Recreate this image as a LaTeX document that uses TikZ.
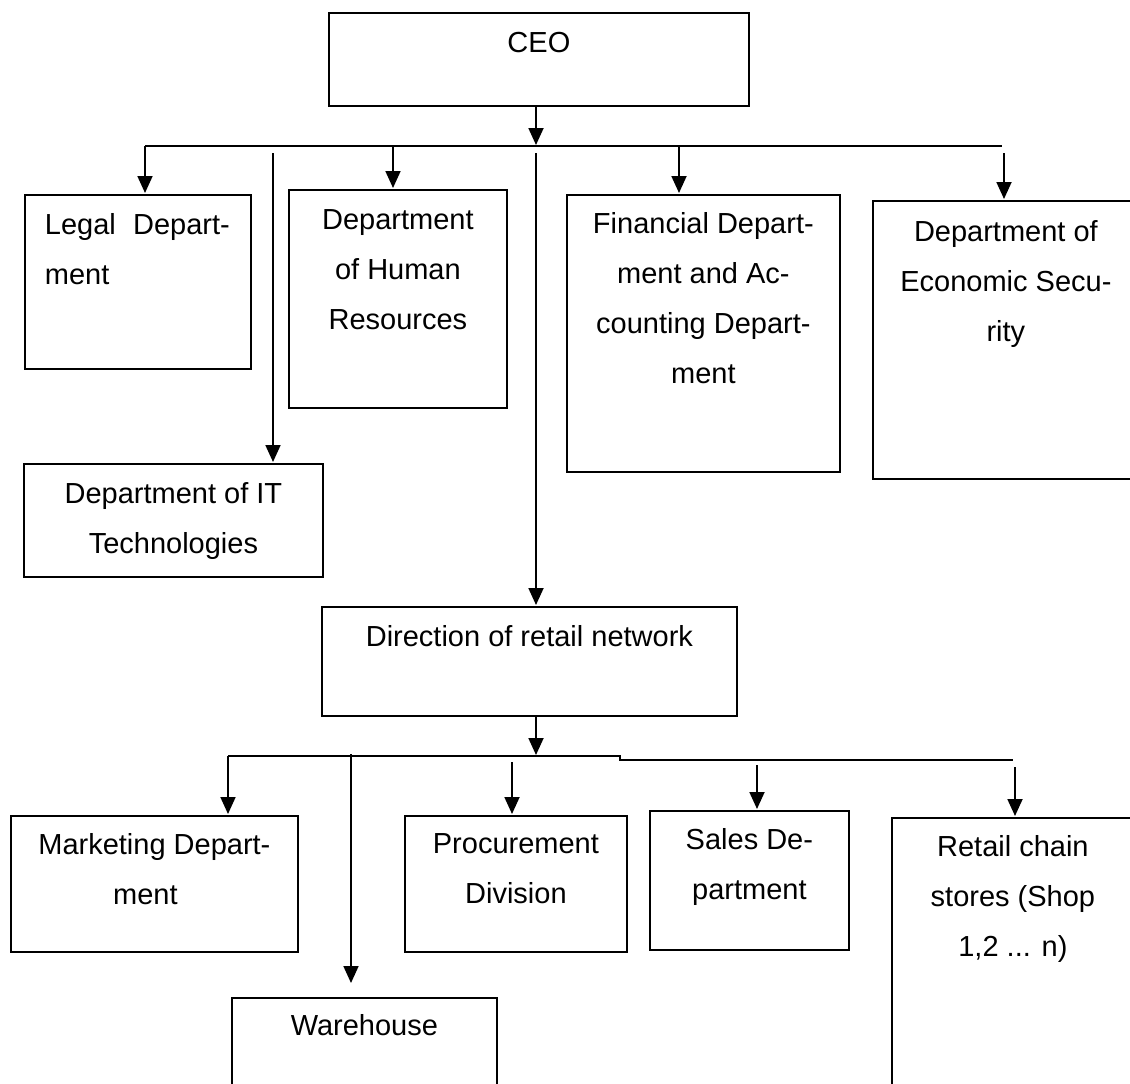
\documentclass[tikz,border=0pt]{standalone}
\usepackage{fontspec}
\setmainfont{Liberation Sans}
\usetikzlibrary{arrows.meta}

% text of a box: width, height, top gap, lines
\newcommand{\deptext}[4]{\parbox[t][#2pt][t]{#1pt}{\vspace*{#3pt}\centering #4}}

\begin{document}
\begin{tikzpicture}[x=1pt,y=-1pt,>={Triangle[width=15pt,length=17pt]},shorten >=1pt,
  box/.style={draw,line width=1.8pt,anchor=north west,inner sep=0pt,font=\fontsize{29}{50}\selectfont},
  wire/.style={line width=1.8pt}]

\useasboundingbox (0,0) rectangle (1130,1084);

\node[box] (ceo)    at (328,12)  {\deptext{420}{93}{19}{CEO}};

\node[box] (legal)  at (24,194)  {\deptext{226}{174}{19}{\raggedright\hspace*{20pt}\makebox[185pt][s]{Legal Depart-}\\\hspace*{20pt}ment}};
\node[box] (hr)     at (288,189) {\deptext{218}{218}{20}{Department\\of Human\\Resources}};
\node[box] (it)     at (23,463)  {\deptext{299}{113}{19}{Department of IT\\Technologies}};
\node[box] (fin)    at (566,194) {\deptext{273}{277}{18}{Financial Depart-\\ment and Ac-\\counting Depart-\\ment}};
\node[box] (eco)    at (872,200) {\deptext{266}{278}{20}{Department of\\Economic Secu-\\rity}};

\node[box] (dir)    at (321,606) {\deptext{415}{109}{19}{Direction of retail network}};

\node[box] (mkt)    at (10,815)  {\deptext{287}{136}{18}{Marketing Depart-\hspace*{18pt}\\ment\hspace*{18pt}}};
\node[box] (wh)     at (231,997) {\deptext{265}{120}{17}{Warehouse}};
\node[box] (proc)   at (404,815) {\deptext{222}{136}{18}{Procurement\\Division}};
\node[box] (sales)  at (649,810) {\deptext{199}{139}{18}{Sales De-\\partment}};
\node[box] (retail) at (891,817) {\deptext{242}{300}{18}{Retail chain\\stores (Shop\\1,2 ... n)}};

% upper bus
\coordinate (tb)   at (536,146);
\coordinate (tbl)  at (145,146);
\coordinate (tbr)  at (1003,146);
\coordinate (itx)  at (273,153);
\coordinate (hrx)  at (393,146);
\coordinate (dirx) at (536,153);
\coordinate (finx) at (679,146);
\coordinate (ecox) at (1004,153);

\draw[wire] (tbl) -- (tbr);
\path[wire,->] (ceo.south -| tb) edge (tb)
  (tbl)  edge (tbl |- legal.north)
  (itx)  edge (itx |- it.north)
  (hrx)  edge (hrx |- hr.north)
  (dirx) edge (dirx |- dir.north)
  (finx) edge (finx |- fin.north)
  (ecox) edge (ecox |- eco.north);

% lower bus
\coordinate (bb)   at (536,756);
\coordinate (bbl)  at (228,756);
\coordinate (bbs)  at (620,756);
\coordinate (bbr)  at (1014,760);
\coordinate (whx)  at (351,754);
\coordinate (prx)  at (512,762);
\coordinate (slx)  at (757,765);
\coordinate (rtx)  at (1015,767);

\draw[wire] (bbl) -- (bbs) -- ++(0,4) -- (bbr);
\path[wire,->] (dir.south -| bb) edge (bb)
  (bbl) edge (bbl |- mkt.north)
  (whx) edge[shorten >=14pt] (whx |- wh.north)
  (prx) edge (prx |- proc.north)
  (slx) edge (slx |- sales.north)
  (rtx) edge (rtx |- retail.north);

\end{tikzpicture}
\end{document}
